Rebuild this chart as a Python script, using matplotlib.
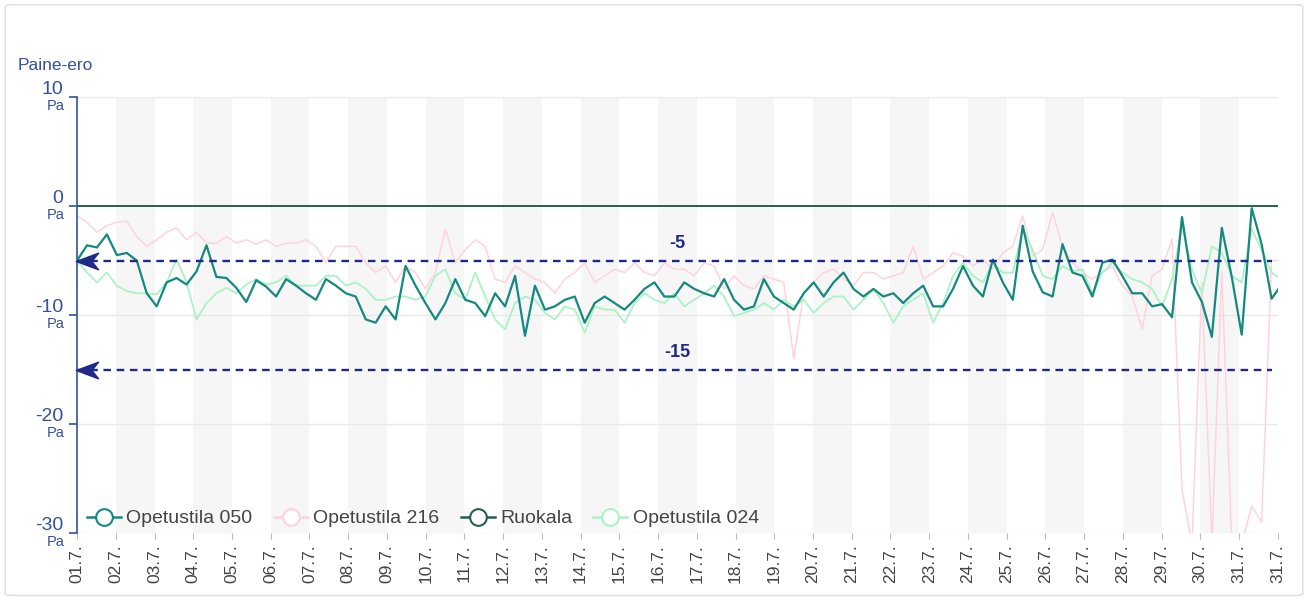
import numpy as np
import matplotlib
matplotlib.use("Agg")
import matplotlib.pyplot as plt
from matplotlib.path import Path
from matplotlib.patches import FancyBboxPatch

plt.rcParams['font.family'] = ['Liberation Sans', 'DejaVu Sans']

# readings, one every ~6 h, starting 1.7. 00:00 (Pa)
step = 0.257

opetustila_050 = [
    -5.0, -3.6, -3.8, -2.6, -4.5, -4.3, -5.0, -8.0, -9.2, -7.0,
    -6.6, -7.2, -6.0, -3.6, -6.5, -6.6, -7.5, -8.8, -6.8, -7.4,
    -8.3, -6.7, -7.3, -8.0, -8.6, -6.7, -7.3, -8.0, -8.3, -10.4,
    -10.7, -9.2, -10.4, -5.5, -7.3, -8.9, -10.4, -8.9, -6.7, -8.6,
    -8.9, -10.1, -8.0, -9.2, -6.4, -11.9, -7.3, -9.5, -9.2, -8.6,
    -8.3, -10.7, -8.9, -8.3, -8.9, -9.5, -8.6, -7.6, -7.0, -8.3,
    -8.3, -7.0, -7.6, -8.0, -8.3, -6.7, -8.6, -9.5, -9.2, -6.7,
    -8.3, -8.9, -9.5, -8.0, -7.0, -8.3, -7.0, -6.1, -7.6, -8.3,
    -7.6, -8.3, -8.0, -8.9, -8.0, -7.3, -9.2, -9.2, -7.6, -5.5,
    -7.3, -8.3, -4.9, -7.0, -8.6, -1.8, -6.0, -7.9, -8.3, -3.5,
    -6.1, -6.4, -8.3, -5.2, -4.9, -6.4, -8.0, -8.0, -9.2, -9.0,
    -10.2, -1.0, -7.0, -8.8, -12.0, -2.0, -6.5, -11.8, -0.2, -3.5,
    -8.5, -7.2,
]

opetustila_216 = [
    -0.9, -1.5, -2.4, -1.8, -1.5, -1.4, -2.8, -3.7, -3.1, -2.4,
    -2.0, -3.1, -2.4, -3.4, -3.4, -2.8, -3.4, -3.1, -3.5, -3.1,
    -3.7, -3.4, -3.4, -3.1, -3.7, -5.2, -3.7, -3.7, -3.7, -5.2,
    -6.1, -5.5, -7.0, -5.5, -6.1, -7.6, -6.1, -2.1, -5.2, -4.0,
    -3.1, -3.7, -6.7, -7.0, -5.5, -6.1, -6.7, -7.0, -8.0, -6.7,
    -6.1, -5.2, -7.0, -6.4, -5.8, -6.1, -5.2, -6.1, -6.4, -5.2,
    -5.8, -5.8, -6.4, -5.2, -5.5, -7.6, -6.4, -7.3, -7.6, -6.4,
    -6.7, -7.0, -14.0, -8.0, -7.0, -6.1, -5.8, -6.7, -7.3, -6.1,
    -6.1, -6.7, -6.4, -6.1, -3.7, -6.7, -6.1, -5.5, -4.3, -4.6,
    -5.5, -4.9, -5.8, -4.3, -3.7, -0.9, -4.6, -4.0, -0.6, -3.7,
    -5.2, -6.1, -6.7, -6.1, -5.5, -7.3, -8.3, -11.3, -6.4, -5.8,
    -3.0, -26.0, -31.0, -7.0, -31.0, -6.0, -31.0, -31.0, -27.5, -29.0,
    -5.0, -5.0,
]

opetustila_024 = [
    -5.0, -6.1, -7.0, -6.1, -7.3, -7.8, -8.0, -8.0, -8.1, -7.0,
    -4.9, -7.0, -10.4, -8.9, -8.0, -7.5, -8.0, -7.2, -6.7, -7.2,
    -7.0, -6.4, -7.3, -7.3, -7.3, -6.4, -6.4, -7.3, -7.0, -7.6,
    -8.6, -8.6, -8.3, -8.3, -8.6, -8.3, -6.4, -5.8, -8.0, -8.6,
    -6.1, -8.3, -10.4, -11.3, -8.9, -8.3, -8.6, -9.8, -10.4, -9.2,
    -9.5, -11.6, -9.2, -9.5, -9.5, -10.7, -8.9, -8.0, -8.6, -8.9,
    -8.0, -9.2, -8.6, -8.0, -7.3, -8.3, -10.1, -9.8, -9.5, -8.9,
    -9.5, -8.6, -9.2, -8.6, -9.8, -8.9, -8.3, -8.3, -9.5, -8.6,
    -7.6, -8.9, -10.7, -9.2, -8.6, -8.0, -10.7, -8.9, -6.4, -5.2,
    -6.4, -7.0, -5.2, -6.1, -6.1, -2.1, -4.0, -6.4, -6.7, -5.5,
    -6.0, -5.8, -8.0, -6.1, -5.2, -6.1, -6.7, -7.0, -7.6, -9.2,
    -6.7, -1.8, -5.8, -8.0, -3.7, -4.3, -6.4, -7.0, -2.1, -4.0,
    -6.1, -6.7,
]

ruokala_t = [0.0, 31.0]
ruokala = [0.0, 0.0]

# day ticks plus the end-of-range tick (still 31.7.)
day_labels = [f"{d:02d}.7." for d in range(1, 32)] + ["31.7."]
y_ticks = [-30, -20, -10, 0, 10]
limits = [-5, -15]

c050 = '#14897f'
c216 = '#ffd3de'
c024 = '#aaf3c4'
cruo = '#25604f'
blue = '#34519e'
navy = '#1f2a86'

t = np.arange(len(opetustila_050)) * step

fig = plt.figure(figsize=(13.08, 5.99), dpi=100)
fig.patches.append(FancyBboxPatch((0.004, 0.006), 0.992, 0.986,
                                  boxstyle='round,pad=0,rounding_size=0.004',
                                  transform=fig.transFigure, fc='white',
                                  ec='#dddddd', lw=1.0, zorder=-10))
ax = fig.add_axes([0.0589, 0.110, 0.918, 0.728])
ax.set_facecolor('none')

# alternating day bands
for d in range(1, 31, 2):
    ax.axvspan(d, d + 1, color='#f6f6f6', lw=0, zorder=0)

for v in y_ticks:
    if v != 0:
        ax.axhline(v, color='#e9e9e9', lw=1, zorder=1)

ax.plot(t, opetustila_216, color=c216, lw=1.1, zorder=2)
ax.plot(t, opetustila_024, color=c024, lw=1.3, zorder=3)
ax.plot(t, opetustila_050, color=c050, lw=1.6, zorder=4)
ax.plot(ruokala_t, ruokala, color=cruo, lw=1.4, zorder=5)

# limit lines
arrow = Path([(-1, 0), (1, 0.75), (0.4, 0), (1, -0.75), (-1, 0)],
             [Path.MOVETO, Path.LINETO, Path.LINETO, Path.LINETO, Path.CLOSEPOLY])
for lim in limits:
    ax.plot([0, 30.85], [lim, lim], color=navy, lw=1.7, ls=(0, (3.2, 2.4)), zorder=6)
    ax.plot([0.27], [lim], marker=arrow, ms=16, color=navy, mec=navy, zorder=7,
            clip_on=False)
    ax.text(15.5, lim + 1.6, f"{lim}", color=navy, fontsize=13, fontweight='bold',
            ha='center', va='center', zorder=7)

ax.set_xlim(0, 31)
ax.set_ylim(-30, 10)

for s in ['top', 'right', 'bottom']:
    ax.spines[s].set_visible(False)
ax.spines['left'].set_color(blue)
ax.spines['left'].set_linewidth(1.2)

ax.set_yticks(y_ticks)
ax.set_yticklabels([])
ax.tick_params(axis='y', length=6, color=blue, width=1.2)
for v in y_ticks:
    ax.annotate(str(v), xy=(0, v), xycoords=('axes fraction', 'data'),
                xytext=(-10, 5.5), textcoords='offset points', ha='right',
                va='center', color=blue, fontsize=14)
    ax.annotate('Pa', xy=(0, v), xycoords=('axes fraction', 'data'),
                xytext=(-9, -6.5), textcoords='offset points', ha='right',
                va='center', color=blue, fontsize=10.5)

ax.set_xticks(range(len(day_labels)))
ax.set_xticklabels(day_labels, rotation=90, fontsize=12.5, color='#444444')
ax.tick_params(axis='x', length=4, color='#bbbbbb', pad=4)

fig.text(18 / 1308, 1 - 65 / 599, 'Paine-ero', color=blue, fontsize=12.5,
         ha='left', va='center')

handles = [
    plt.Line2D([], [], color=c050, lw=1.8, marker='o', ms=12, mfc='white', mec=c050, mew=1.5),
    plt.Line2D([], [], color=c216, lw=1.8, marker='o', ms=12, mfc='white', mec=c216, mew=1.5),
    plt.Line2D([], [], color=cruo, lw=1.8, marker='o', ms=12, mfc='white', mec=cruo, mew=1.5),
    plt.Line2D([], [], color=c024, lw=1.8, marker='o', ms=12, mfc='white', mec=c024, mew=1.5),
]
leg = ax.legend(handles, ['Opetustila 050', 'Opetustila 216', 'Ruokala', 'Opetustila 024'],
                loc='lower left', bbox_to_anchor=(-0.003, -0.018), ncol=4, frameon=False,
                fontsize=14, handlelength=1.75, handletextpad=0.27, columnspacing=1.1,
                borderaxespad=0.3)
for txt in leg.get_texts():
    txt.set_color('#444444')
leg.set_zorder(10)

fig.savefig('out.png', dpi=100)
